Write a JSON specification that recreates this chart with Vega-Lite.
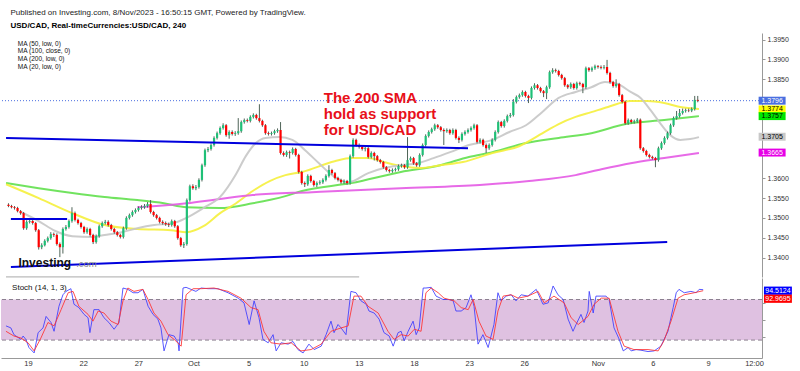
{
"$schema":"https://vega.github.io/schema/vega-lite/v6.json",
"padding":{"top":9,"left":0,"right":0,"bottom":0},
"background":"white",
"config":{"view":{"stroke":null},"font":"Liberation Sans","axis":{"labelOverlap":false}},
"title":{"text":"Published on Investing.com, 8/Nov/2023 - 16:50:15 GMT, Powered by TradingView.","subtitle":"USD/CAD, Real-timeCurrencies:USD/CAD, 240","anchor":"start","dx":10,"fontSize":8,"fontWeight":"normal","color":"#222","font":"Liberation Sans","subtitleFont":"Liberation Sans","subtitleFontSize":8,"subtitleFontWeight":"bold","subtitleColor":"#000","subtitlePadding":5,"offset":3},
"spacing":0,
"resolve":{"scale":{"x":"independent","y":"independent","color":"independent","fill":"independent"}},
"datasets":{
"candles":[
{"i":0,"o":1.3533,"h":1.3537,"l":1.3527,"c":1.3530},
{"i":1,"o":1.3530,"h":1.3533,"l":1.3524,"c":1.3527},
{"i":2,"o":1.3527,"h":1.3530,"l":1.3521,"c":1.3525},
{"i":3,"o":1.3525,"h":1.3528,"l":1.3514,"c":1.3517},
{"i":4,"o":1.3517,"h":1.3520,"l":1.3508,"c":1.3512},
{"i":5,"o":1.3512,"h":1.3515,"l":1.3470,"c":1.3474},
{"i":6,"o":1.3474,"h":1.3494,"l":1.3470,"c":1.3490},
{"i":7,"o":1.3490,"h":1.3497,"l":1.3486,"c":1.3492},
{"i":8,"o":1.3492,"h":1.3496,"l":1.3483,"c":1.3487},
{"i":9,"o":1.3487,"h":1.3490,"l":1.3465,"c":1.3469},
{"i":10,"o":1.3469,"h":1.3472,"l":1.3420,"c":1.3426},
{"i":11,"o":1.3426,"h":1.3436,"l":1.3421,"c":1.3431},
{"i":12,"o":1.3431,"h":1.3446,"l":1.3428,"c":1.3442},
{"i":13,"o":1.3442,"h":1.3453,"l":1.3438,"c":1.3449},
{"i":14,"o":1.3449,"h":1.3464,"l":1.3445,"c":1.3459},
{"i":15,"o":1.3459,"h":1.3463,"l":1.3452,"c":1.3457},
{"i":16,"o":1.3457,"h":1.3461,"l":1.3430,"c":1.3434},
{"i":17,"o":1.3434,"h":1.3438,"l":1.3401,"c":1.3426},
{"i":18,"o":1.3426,"h":1.3476,"l":1.3410,"c":1.3472},
{"i":19,"o":1.3472,"h":1.3482,"l":1.3468,"c":1.3477},
{"i":20,"o":1.3477,"h":1.3496,"l":1.3473,"c":1.3492},
{"i":21,"o":1.3492,"h":1.3527,"l":1.3488,"c":1.3512},
{"i":22,"o":1.3512,"h":1.3516,"l":1.3491,"c":1.3495},
{"i":23,"o":1.3495,"h":1.3498,"l":1.3483,"c":1.3487},
{"i":24,"o":1.3487,"h":1.3490,"l":1.3473,"c":1.3477},
{"i":25,"o":1.3477,"h":1.3480,"l":1.3460,"c":1.3464},
{"i":26,"o":1.3464,"h":1.3476,"l":1.3460,"c":1.3472},
{"i":27,"o":1.3472,"h":1.3475,"l":1.3453,"c":1.3457},
{"i":28,"o":1.3457,"h":1.3460,"l":1.3434,"c":1.3439},
{"i":29,"o":1.3439,"h":1.3458,"l":1.3435,"c":1.3454},
{"i":30,"o":1.3454,"h":1.3483,"l":1.3450,"c":1.3479},
{"i":31,"o":1.3479,"h":1.3491,"l":1.3475,"c":1.3487},
{"i":32,"o":1.3487,"h":1.3495,"l":1.3483,"c":1.3490},
{"i":33,"o":1.3490,"h":1.3494,"l":1.3478,"c":1.3482},
{"i":34,"o":1.3482,"h":1.3485,"l":1.3468,"c":1.3472},
{"i":35,"o":1.3472,"h":1.3475,"l":1.3460,"c":1.3464},
{"i":36,"o":1.3464,"h":1.3467,"l":1.3453,"c":1.3457},
{"i":37,"o":1.3457,"h":1.3460,"l":1.3448,"c":1.3452},
{"i":38,"o":1.3452,"h":1.3478,"l":1.3448,"c":1.3474},
{"i":39,"o":1.3474,"h":1.3504,"l":1.3470,"c":1.3500},
{"i":40,"o":1.3500,"h":1.3511,"l":1.3496,"c":1.3507},
{"i":41,"o":1.3507,"h":1.3519,"l":1.3503,"c":1.3515},
{"i":42,"o":1.3515,"h":1.3524,"l":1.3511,"c":1.3520},
{"i":43,"o":1.3520,"h":1.3529,"l":1.3516,"c":1.3525},
{"i":44,"o":1.3525,"h":1.3532,"l":1.3521,"c":1.3527},
{"i":45,"o":1.3527,"h":1.3535,"l":1.3523,"c":1.3530},
{"i":46,"o":1.3530,"h":1.3540,"l":1.3526,"c":1.3535},
{"i":47,"o":1.3535,"h":1.3545,"l":1.3511,"c":1.3515},
{"i":48,"o":1.3515,"h":1.3518,"l":1.3503,"c":1.3507},
{"i":49,"o":1.3507,"h":1.3510,"l":1.3496,"c":1.3500},
{"i":50,"o":1.3500,"h":1.3503,"l":1.3486,"c":1.3490},
{"i":51,"o":1.3490,"h":1.3494,"l":1.3483,"c":1.3487},
{"i":52,"o":1.3487,"h":1.3491,"l":1.3480,"c":1.3484},
{"i":53,"o":1.3484,"h":1.3488,"l":1.3477,"c":1.3482},
{"i":54,"o":1.3482,"h":1.3496,"l":1.3478,"c":1.3492},
{"i":55,"o":1.3492,"h":1.3495,"l":1.3475,"c":1.3479},
{"i":56,"o":1.3479,"h":1.3482,"l":1.3445,"c":1.3449},
{"i":57,"o":1.3449,"h":1.3452,"l":1.3427,"c":1.3431},
{"i":58,"o":1.3431,"h":1.3439,"l":1.3424,"c":1.3434},
{"i":59,"o":1.3434,"h":1.3549,"l":1.3430,"c":1.3545},
{"i":60,"o":1.3545,"h":1.3584,"l":1.3541,"c":1.3580},
{"i":61,"o":1.3580,"h":1.3585,"l":1.3571,"c":1.3575},
{"i":62,"o":1.3575,"h":1.3583,"l":1.3570,"c":1.3578},
{"i":63,"o":1.3578,"h":1.3600,"l":1.3574,"c":1.3596},
{"i":64,"o":1.3596,"h":1.3637,"l":1.3592,"c":1.3633},
{"i":65,"o":1.3633,"h":1.3675,"l":1.3629,"c":1.3671},
{"i":66,"o":1.3671,"h":1.3679,"l":1.3666,"c":1.3674},
{"i":67,"o":1.3674,"h":1.3688,"l":1.3670,"c":1.3684},
{"i":68,"o":1.3684,"h":1.3706,"l":1.3680,"c":1.3702},
{"i":69,"o":1.3702,"h":1.3718,"l":1.3698,"c":1.3714},
{"i":70,"o":1.3714,"h":1.3731,"l":1.3710,"c":1.3727},
{"i":71,"o":1.3727,"h":1.3739,"l":1.3723,"c":1.3734},
{"i":72,"o":1.3734,"h":1.3737,"l":1.3705,"c":1.3709},
{"i":73,"o":1.3709,"h":1.3721,"l":1.3700,"c":1.3717},
{"i":74,"o":1.3717,"h":1.3721,"l":1.3708,"c":1.3712},
{"i":75,"o":1.3712,"h":1.3719,"l":1.3707,"c":1.3714},
{"i":76,"o":1.3714,"h":1.3752,"l":1.3710,"c":1.3719},
{"i":77,"o":1.3719,"h":1.3746,"l":1.3715,"c":1.3742},
{"i":78,"o":1.3742,"h":1.3751,"l":1.3738,"c":1.3747},
{"i":79,"o":1.3747,"h":1.3751,"l":1.3741,"c":1.3745},
{"i":80,"o":1.3745,"h":1.3759,"l":1.3741,"c":1.3755},
{"i":81,"o":1.3755,"h":1.3764,"l":1.3751,"c":1.3760},
{"i":82,"o":1.3760,"h":1.3763,"l":1.3748,"c":1.3752},
{"i":83,"o":1.3752,"h":1.3787,"l":1.3741,"c":1.3745},
{"i":84,"o":1.3745,"h":1.3748,"l":1.3730,"c":1.3734},
{"i":85,"o":1.3734,"h":1.3737,"l":1.3710,"c":1.3714},
{"i":86,"o":1.3714,"h":1.3718,"l":1.3708,"c":1.3712},
{"i":87,"o":1.3712,"h":1.3718,"l":1.3708,"c":1.3714},
{"i":88,"o":1.3714,"h":1.3723,"l":1.3710,"c":1.3719},
{"i":89,"o":1.3719,"h":1.3726,"l":1.3715,"c":1.3722},
{"i":90,"o":1.3722,"h":1.3742,"l":1.3660,"c":1.3664},
{"i":91,"o":1.3664,"h":1.3668,"l":1.3655,"c":1.3659},
{"i":92,"o":1.3659,"h":1.3670,"l":1.3654,"c":1.3666},
{"i":93,"o":1.3666,"h":1.3670,"l":1.3650,"c":1.3664},
{"i":94,"o":1.3664,"h":1.3678,"l":1.3660,"c":1.3674},
{"i":95,"o":1.3674,"h":1.3677,"l":1.3655,"c":1.3659},
{"i":96,"o":1.3659,"h":1.3662,"l":1.3612,"c":1.3616},
{"i":97,"o":1.3616,"h":1.3619,"l":1.3584,"c":1.3588},
{"i":98,"o":1.3588,"h":1.3592,"l":1.3578,"c":1.3585},
{"i":99,"o":1.3585,"h":1.3610,"l":1.3581,"c":1.3606},
{"i":100,"o":1.3606,"h":1.3609,"l":1.3589,"c":1.3593},
{"i":101,"o":1.3593,"h":1.3596,"l":1.3579,"c":1.3583},
{"i":102,"o":1.3583,"h":1.3592,"l":1.3578,"c":1.3588},
{"i":103,"o":1.3588,"h":1.3595,"l":1.3584,"c":1.3590},
{"i":104,"o":1.3590,"h":1.3600,"l":1.3586,"c":1.3596},
{"i":105,"o":1.3596,"h":1.3610,"l":1.3592,"c":1.3606},
{"i":106,"o":1.3606,"h":1.3633,"l":1.3602,"c":1.3621},
{"i":107,"o":1.3621,"h":1.3624,"l":1.3609,"c":1.3613},
{"i":108,"o":1.3613,"h":1.3616,"l":1.3597,"c":1.3601},
{"i":109,"o":1.3601,"h":1.3604,"l":1.3592,"c":1.3596},
{"i":110,"o":1.3596,"h":1.3599,"l":1.3586,"c":1.3590},
{"i":111,"o":1.3590,"h":1.3597,"l":1.3586,"c":1.3593},
{"i":112,"o":1.3593,"h":1.3596,"l":1.3584,"c":1.3588},
{"i":113,"o":1.3588,"h":1.3660,"l":1.3584,"c":1.3656},
{"i":114,"o":1.3656,"h":1.3701,"l":1.3652,"c":1.3697},
{"i":115,"o":1.3697,"h":1.3700,"l":1.3680,"c":1.3684},
{"i":116,"o":1.3684,"h":1.3688,"l":1.3675,"c":1.3679},
{"i":117,"o":1.3679,"h":1.3683,"l":1.3670,"c":1.3674},
{"i":118,"o":1.3674,"h":1.3680,"l":1.3668,"c":1.3676},
{"i":119,"o":1.3676,"h":1.3679,"l":1.3650,"c":1.3654},
{"i":120,"o":1.3654,"h":1.3668,"l":1.3650,"c":1.3664},
{"i":121,"o":1.3664,"h":1.3667,"l":1.3645,"c":1.3656},
{"i":122,"o":1.3656,"h":1.3659,"l":1.3642,"c":1.3646},
{"i":123,"o":1.3646,"h":1.3649,"l":1.3637,"c":1.3641},
{"i":124,"o":1.3641,"h":1.3644,"l":1.3624,"c":1.3628},
{"i":125,"o":1.3628,"h":1.3631,"l":1.3617,"c":1.3621},
{"i":126,"o":1.3621,"h":1.3624,"l":1.3614,"c":1.3618},
{"i":127,"o":1.3618,"h":1.3625,"l":1.3614,"c":1.3621},
{"i":128,"o":1.3621,"h":1.3627,"l":1.3617,"c":1.3623},
{"i":129,"o":1.3623,"h":1.3635,"l":1.3619,"c":1.3631},
{"i":130,"o":1.3631,"h":1.3637,"l":1.3627,"c":1.3633},
{"i":131,"o":1.3633,"h":1.3636,"l":1.3624,"c":1.3628},
{"i":132,"o":1.3628,"h":1.3704,"l":1.3624,"c":1.3646},
{"i":133,"o":1.3646,"h":1.3655,"l":1.3642,"c":1.3651},
{"i":134,"o":1.3651,"h":1.3654,"l":1.3634,"c":1.3638},
{"i":135,"o":1.3638,"h":1.3641,"l":1.3629,"c":1.3633},
{"i":136,"o":1.3633,"h":1.3663,"l":1.3629,"c":1.3659},
{"i":137,"o":1.3659,"h":1.3688,"l":1.3655,"c":1.3684},
{"i":138,"o":1.3684,"h":1.3711,"l":1.3680,"c":1.3707},
{"i":139,"o":1.3707,"h":1.3721,"l":1.3703,"c":1.3717},
{"i":140,"o":1.3717,"h":1.3728,"l":1.3713,"c":1.3724},
{"i":141,"o":1.3724,"h":1.3738,"l":1.3720,"c":1.3734},
{"i":142,"o":1.3734,"h":1.3737,"l":1.3725,"c":1.3729},
{"i":143,"o":1.3729,"h":1.3732,"l":1.3718,"c":1.3722},
{"i":144,"o":1.3722,"h":1.3726,"l":1.3684,"c":1.3719},
{"i":145,"o":1.3719,"h":1.3726,"l":1.3715,"c":1.3722},
{"i":146,"o":1.3722,"h":1.3725,"l":1.3710,"c":1.3714},
{"i":147,"o":1.3714,"h":1.3726,"l":1.3710,"c":1.3722},
{"i":148,"o":1.3722,"h":1.3725,"l":1.3698,"c":1.3702},
{"i":149,"o":1.3702,"h":1.3706,"l":1.3689,"c":1.3697},
{"i":150,"o":1.3697,"h":1.3716,"l":1.3693,"c":1.3712},
{"i":151,"o":1.3712,"h":1.3721,"l":1.3708,"c":1.3717},
{"i":152,"o":1.3717,"h":1.3726,"l":1.3713,"c":1.3722},
{"i":153,"o":1.3722,"h":1.3731,"l":1.3718,"c":1.3727},
{"i":154,"o":1.3727,"h":1.3738,"l":1.3723,"c":1.3734},
{"i":155,"o":1.3734,"h":1.3737,"l":1.3688,"c":1.3692},
{"i":156,"o":1.3692,"h":1.3701,"l":1.3688,"c":1.3697},
{"i":157,"o":1.3697,"h":1.3700,"l":1.3680,"c":1.3684},
{"i":158,"o":1.3684,"h":1.3688,"l":1.3664,"c":1.3676},
{"i":159,"o":1.3676,"h":1.3688,"l":1.3672,"c":1.3684},
{"i":160,"o":1.3684,"h":1.3701,"l":1.3680,"c":1.3697},
{"i":161,"o":1.3697,"h":1.3721,"l":1.3693,"c":1.3717},
{"i":162,"o":1.3717,"h":1.3746,"l":1.3713,"c":1.3742},
{"i":163,"o":1.3742,"h":1.3745,"l":1.3728,"c":1.3732},
{"i":164,"o":1.3732,"h":1.3749,"l":1.3728,"c":1.3745},
{"i":165,"o":1.3745,"h":1.3761,"l":1.3741,"c":1.3757},
{"i":166,"o":1.3757,"h":1.3765,"l":1.3753,"c":1.3760},
{"i":167,"o":1.3760,"h":1.3800,"l":1.3756,"c":1.3793},
{"i":168,"o":1.3793,"h":1.3809,"l":1.3789,"c":1.3805},
{"i":169,"o":1.3805,"h":1.3814,"l":1.3801,"c":1.3810},
{"i":170,"o":1.3810,"h":1.3822,"l":1.3806,"c":1.3818},
{"i":171,"o":1.3818,"h":1.3821,"l":1.3804,"c":1.3808},
{"i":172,"o":1.3808,"h":1.3811,"l":1.3790,"c":1.3803},
{"i":173,"o":1.3803,"h":1.3832,"l":1.3799,"c":1.3828},
{"i":174,"o":1.3828,"h":1.3840,"l":1.3824,"c":1.3835},
{"i":175,"o":1.3835,"h":1.3838,"l":1.3824,"c":1.3828},
{"i":176,"o":1.3828,"h":1.3831,"l":1.3816,"c":1.3820},
{"i":177,"o":1.3820,"h":1.3823,"l":1.3805,"c":1.3815},
{"i":178,"o":1.3815,"h":1.3834,"l":1.3800,"c":1.3830},
{"i":179,"o":1.3830,"h":1.3872,"l":1.3826,"c":1.3868},
{"i":180,"o":1.3868,"h":1.3878,"l":1.3864,"c":1.3873},
{"i":181,"o":1.3873,"h":1.3877,"l":1.3867,"c":1.3871},
{"i":182,"o":1.3871,"h":1.3874,"l":1.3857,"c":1.3861},
{"i":183,"o":1.3861,"h":1.3864,"l":1.3849,"c":1.3853},
{"i":184,"o":1.3853,"h":1.3856,"l":1.3831,"c":1.3835},
{"i":185,"o":1.3835,"h":1.3838,"l":1.3826,"c":1.3830},
{"i":186,"o":1.3830,"h":1.3842,"l":1.3826,"c":1.3838},
{"i":187,"o":1.3838,"h":1.3841,"l":1.3824,"c":1.3828},
{"i":188,"o":1.3828,"h":1.3844,"l":1.3824,"c":1.3840},
{"i":189,"o":1.3840,"h":1.3844,"l":1.3834,"c":1.3838},
{"i":190,"o":1.3838,"h":1.3841,"l":1.3815,"c":1.3830},
{"i":191,"o":1.3830,"h":1.3882,"l":1.3826,"c":1.3878},
{"i":192,"o":1.3878,"h":1.3881,"l":1.3869,"c":1.3873},
{"i":193,"o":1.3873,"h":1.3882,"l":1.3869,"c":1.3878},
{"i":194,"o":1.3878,"h":1.3887,"l":1.3874,"c":1.3883},
{"i":195,"o":1.3883,"h":1.3886,"l":1.3877,"c":1.3881},
{"i":196,"o":1.3881,"h":1.3885,"l":1.3875,"c":1.3879},
{"i":197,"o":1.3879,"h":1.3886,"l":1.3875,"c":1.3881},
{"i":198,"o":1.3881,"h":1.3899,"l":1.3862,"c":1.3866},
{"i":199,"o":1.3866,"h":1.3869,"l":1.3839,"c":1.3843},
{"i":200,"o":1.3843,"h":1.3846,"l":1.3829,"c":1.3833},
{"i":201,"o":1.3833,"h":1.3850,"l":1.3829,"c":1.3838},
{"i":202,"o":1.3838,"h":1.3841,"l":1.3806,"c":1.3810},
{"i":203,"o":1.3810,"h":1.3813,"l":1.3789,"c":1.3793},
{"i":204,"o":1.3793,"h":1.3796,"l":1.3735,"c":1.3739},
{"i":205,"o":1.3739,"h":1.3751,"l":1.3735,"c":1.3747},
{"i":206,"o":1.3747,"h":1.3750,"l":1.3738,"c":1.3742},
{"i":207,"o":1.3742,"h":1.3748,"l":1.3738,"c":1.3744},
{"i":208,"o":1.3744,"h":1.3752,"l":1.3740,"c":1.3748},
{"i":209,"o":1.3748,"h":1.3751,"l":1.3672,"c":1.3676},
{"i":210,"o":1.3676,"h":1.3679,"l":1.3665,"c":1.3669},
{"i":211,"o":1.3669,"h":1.3672,"l":1.3655,"c":1.3659},
{"i":212,"o":1.3659,"h":1.3662,"l":1.3650,"c":1.3654},
{"i":213,"o":1.3654,"h":1.3657,"l":1.3647,"c":1.3651},
{"i":214,"o":1.3651,"h":1.3654,"l":1.3628,"c":1.3646},
{"i":215,"o":1.3646,"h":1.3680,"l":1.3642,"c":1.3676},
{"i":216,"o":1.3676,"h":1.3693,"l":1.3672,"c":1.3689},
{"i":217,"o":1.3689,"h":1.3706,"l":1.3685,"c":1.3702},
{"i":218,"o":1.3702,"h":1.3718,"l":1.3698,"c":1.3714},
{"i":219,"o":1.3714,"h":1.3738,"l":1.3710,"c":1.3734},
{"i":220,"o":1.3734,"h":1.3756,"l":1.3730,"c":1.3752},
{"i":221,"o":1.3752,"h":1.3770,"l":1.3748,"c":1.3757},
{"i":222,"o":1.3757,"h":1.3775,"l":1.3753,"c":1.3765},
{"i":223,"o":1.3765,"h":1.3776,"l":1.3761,"c":1.3770},
{"i":224,"o":1.3770,"h":1.3776,"l":1.3766,"c":1.3772},
{"i":225,"o":1.3772,"h":1.3776,"l":1.3767,"c":1.3771},
{"i":226,"o":1.3771,"h":1.3779,"l":1.3767,"c":1.3775},
{"i":227,"o":1.3775,"h":1.3808,"l":1.3771,"c":1.3798},
{"i":228,"o":1.3798,"h":1.3808,"l":1.3792,"c":1.3796}
],
"ma":[
{"s":"MA (100, close, 0)","i":-0.8,"v":1.3588},{"s":"MA (100, close, 0)","i":10,"v":1.3575},{"s":"MA (100, close, 0)","i":21.1,"v":1.3563},{"s":"MA (100, close, 0)","i":31.8,"v":1.3553},{"s":"MA (100, close, 0)","i":42.6,"v":1.3545},{"s":"MA (100, close, 0)","i":51.4,"v":1.3537},{"s":"MA (100, close, 0)","i":58.9,"v":1.3527},{"s":"MA (100, close, 0)","i":70,"v":1.3525},{"s":"MA (100, close, 0)","i":80.8,"v":1.3537},{"s":"MA (100, close, 0)","i":91.6,"v":1.3555},{"s":"MA (100, close, 0)","i":97.1,"v":1.3568},{"s":"MA (100, close, 0)","i":113.4,"v":1.3588},{"s":"MA (100, close, 0)","i":129.8,"v":1.3616},{"s":"MA (100, close, 0)","i":142.8,"v":1.3633},{"s":"MA (100, close, 0)","i":152.3,"v":1.3654},{"s":"MA (100, close, 0)","i":160.1,"v":1.3666},{"s":"MA (100, close, 0)","i":171.2,"v":1.3689},{"s":"MA (100, close, 0)","i":182,"v":1.3702},{"s":"MA (100, close, 0)","i":192.8,"v":1.3714},{"s":"MA (100, close, 0)","i":204.2,"v":1.3737},{"s":"MA (100, close, 0)","i":216.9,"v":1.3747},{"s":"MA (100, close, 0)","i":228.4,"v":1.3757},
{"s":"MA (50, low, 0)","i":-0.8,"v":1.3585},{"s":"MA (50, low, 0)","i":10,"v":1.3550},{"s":"MA (50, low, 0)","i":21.1,"v":1.3512},{"s":"MA (50, low, 0)","i":31.8,"v":1.3482},{"s":"MA (50, low, 0)","i":42.6,"v":1.3472},{"s":"MA (50, low, 0)","i":53.7,"v":1.3469},{"s":"MA (50, low, 0)","i":58.9,"v":1.3464},{"s":"MA (50, low, 0)","i":64.5,"v":1.3479},{"s":"MA (50, low, 0)","i":70,"v":1.3512},{"s":"MA (50, low, 0)","i":75.3,"v":1.3537},{"s":"MA (50, low, 0)","i":80.8,"v":1.3568},{"s":"MA (50, low, 0)","i":86.4,"v":1.3593},{"s":"MA (50, low, 0)","i":91.6,"v":1.3608},{"s":"MA (50, low, 0)","i":97.1,"v":1.3616},{"s":"MA (50, low, 0)","i":107.9,"v":1.3643},{"s":"MA (50, low, 0)","i":113.4,"v":1.3651},{"s":"MA (50, low, 0)","i":119,"v":1.3651},{"s":"MA (50, low, 0)","i":124.2,"v":1.3641},{"s":"MA (50, low, 0)","i":129.8,"v":1.3631},{"s":"MA (50, low, 0)","i":136.3,"v":1.3626},{"s":"MA (50, low, 0)","i":142.8,"v":1.3633},{"s":"MA (50, low, 0)","i":150.3,"v":1.3641},{"s":"MA (50, low, 0)","i":160.1,"v":1.3664},{"s":"MA (50, low, 0)","i":168.9,"v":1.3681},{"s":"MA (50, low, 0)","i":177.8,"v":1.3719},{"s":"MA (50, low, 0)","i":182,"v":1.3737},{"s":"MA (50, low, 0)","i":187.6,"v":1.3755},{"s":"MA (50, low, 0)","i":192.8,"v":1.3767},{"s":"MA (50, low, 0)","i":198.3,"v":1.3780},{"s":"MA (50, low, 0)","i":205.8,"v":1.3795},{"s":"MA (50, low, 0)","i":211.4,"v":1.3795},{"s":"MA (50, low, 0)","i":216.9,"v":1.3790},{"s":"MA (50, low, 0)","i":222.2,"v":1.3780},{"s":"MA (50, low, 0)","i":228.4,"v":1.3775},
{"s":"MA (200, low, 0)","i":42.6,"v":1.3527},{"s":"MA (200, low, 0)","i":58.9,"v":1.3537},{"s":"MA (200, low, 0)","i":70,"v":1.3548},{"s":"MA (200, low, 0)","i":80.8,"v":1.3558},{"s":"MA (200, low, 0)","i":100.4,"v":1.3565},{"s":"MA (200, low, 0)","i":129.8,"v":1.3575},{"s":"MA (200, low, 0)","i":155.9,"v":1.3583},{"s":"MA (200, low, 0)","i":172.2,"v":1.3593},{"s":"MA (200, low, 0)","i":187.6,"v":1.3608},{"s":"MA (200, low, 0)","i":195.1,"v":1.3621},{"s":"MA (200, low, 0)","i":205.8,"v":1.3638},{"s":"MA (200, low, 0)","i":216.9,"v":1.3651},{"s":"MA (200, low, 0)","i":228.4,"v":1.3664},
{"s":"MA (20, low, 0)","i":4.1,"v":1.3515},{"s":"MA (20, low, 0)","i":10,"v":1.3492},{"s":"MA (20, low, 0)","i":15.5,"v":1.3467},{"s":"MA (20, low, 0)","i":21.1,"v":1.3454},{"s":"MA (20, low, 0)","i":27.6,"v":1.3452},{"s":"MA (20, low, 0)","i":31.8,"v":1.3457},{"s":"MA (20, low, 0)","i":37.4,"v":1.3464},{"s":"MA (20, low, 0)","i":42.6,"v":1.3474},{"s":"MA (20, low, 0)","i":48.2,"v":1.3482},{"s":"MA (20, low, 0)","i":54.7,"v":1.3487},{"s":"MA (20, low, 0)","i":58.9,"v":1.3500},{"s":"MA (20, low, 0)","i":64.5,"v":1.3525},{"s":"MA (20, low, 0)","i":70,"v":1.3553},{"s":"MA (20, low, 0)","i":75.3,"v":1.3611},{"s":"MA (20, low, 0)","i":78.5,"v":1.3656},{"s":"MA (20, low, 0)","i":81.8,"v":1.3689},{"s":"MA (20, low, 0)","i":85,"v":1.3702},{"s":"MA (20, low, 0)","i":89.6,"v":1.3704},{"s":"MA (20, low, 0)","i":93.9,"v":1.3697},{"s":"MA (20, low, 0)","i":98.1,"v":1.3671},{"s":"MA (20, low, 0)","i":102.7,"v":1.3638},{"s":"MA (20, low, 0)","i":107.9,"v":1.3603},{"s":"MA (20, low, 0)","i":112.5,"v":1.3590},{"s":"MA (20, low, 0)","i":119,"v":1.3613},{"s":"MA (20, low, 0)","i":124.2,"v":1.3626},{"s":"MA (20, low, 0)","i":129.8,"v":1.3633},{"s":"MA (20, low, 0)","i":135.3,"v":1.3638},{"s":"MA (20, low, 0)","i":140.6,"v":1.3651},{"s":"MA (20, low, 0)","i":146.1,"v":1.3666},{"s":"MA (20, low, 0)","i":152.3,"v":1.3684},{"s":"MA (20, low, 0)","i":160.1,"v":1.3697},{"s":"MA (20, low, 0)","i":165.7,"v":1.3717},{"s":"MA (20, low, 0)","i":171.2,"v":1.3734},{"s":"MA (20, low, 0)","i":176.5,"v":1.3767},{"s":"MA (20, low, 0)","i":182,"v":1.3803},{"s":"MA (20, low, 0)","i":187.6,"v":1.3818},{"s":"MA (20, low, 0)","i":192.8,"v":1.3830},{"s":"MA (20, low, 0)","i":197.3,"v":1.3843},{"s":"MA (20, low, 0)","i":201.5,"v":1.3838},{"s":"MA (20, low, 0)","i":205.8,"v":1.3818},{"s":"MA (20, low, 0)","i":209.1,"v":1.3803},{"s":"MA (20, low, 0)","i":212.4,"v":1.3772},{"s":"MA (20, low, 0)","i":215.6,"v":1.3739},{"s":"MA (20, low, 0)","i":218.9,"v":1.3709},{"s":"MA (20, low, 0)","i":222.2,"v":1.3697},{"s":"MA (20, low, 0)","i":225.5,"v":1.3699},{"s":"MA (20, low, 0)","i":228.4,"v":1.3704}
],
"trend":[
{"i":-0.8,"p":1.3702,"i2":152.0,"p2":1.3676},
{"i":0.8,"p":1.3497,"i2":19.4,"p2":1.3497},
{"i":0.8,"p":1.3376,"i2":217.9,"p2":1.3439}
],
"stoch":[
{"s":"K","i":0.8,"v":41},{"s":"K","i":2.4,"v":38},{"s":"K","i":3.4,"v":28},{"s":"K","i":4.7,"v":24},{"s":"K","i":5.7,"v":21},{"s":"K","i":6.4,"v":26},{"s":"K","i":7.3,"v":21},{"s":"K","i":8.3,"v":9},{"s":"K","i":10,"v":1},{"s":"K","i":11.3,"v":31},{"s":"K","i":12.9,"v":38},{"s":"K","i":13.9,"v":55},{"s":"K","i":15.5,"v":46},{"s":"K","i":16.5,"v":33},{"s":"K","i":18.1,"v":70},{"s":"K","i":19.4,"v":87},{"s":"K","i":20.4,"v":92},{"s":"K","i":22,"v":96},{"s":"K","i":23,"v":73},{"s":"K","i":24.6,"v":68},{"s":"K","i":26.3,"v":58},{"s":"K","i":27.6,"v":53},{"s":"K","i":28.2,"v":31},{"s":"K","i":29.5,"v":65},{"s":"K","i":31.2,"v":65},{"s":"K","i":32.8,"v":53},{"s":"K","i":34.4,"v":46},{"s":"K","i":36.1,"v":36},{"s":"K","i":37.7,"v":46},{"s":"K","i":39,"v":97},{"s":"K","i":40.6,"v":95},{"s":"K","i":42.3,"v":90},{"s":"K","i":43.9,"v":90},{"s":"K","i":45.5,"v":95},{"s":"K","i":47.2,"v":70},{"s":"K","i":48.8,"v":58},{"s":"K","i":50.4,"v":51},{"s":"K","i":51.4,"v":38},{"s":"K","i":52.4,"v":4},{"s":"K","i":54,"v":28},{"s":"K","i":55.7,"v":26},{"s":"K","i":57,"v":16},{"s":"K","i":57.3,"v":4},{"s":"K","i":58.6,"v":97},{"s":"K","i":59.6,"v":98},{"s":"K","i":61.2,"v":95},{"s":"K","i":62.8,"v":92},{"s":"K","i":64.5,"v":97},{"s":"K","i":66.8,"v":96},{"s":"K","i":70,"v":96},{"s":"K","i":73.3,"v":90},{"s":"K","i":76.6,"v":82},{"s":"K","i":78.5,"v":75},{"s":"K","i":80.2,"v":43},{"s":"K","i":81.8,"v":78},{"s":"K","i":83.4,"v":53},{"s":"K","i":84.7,"v":21},{"s":"K","i":86.4,"v":16},{"s":"K","i":88,"v":28},{"s":"K","i":89,"v":4},{"s":"K","i":90.6,"v":16},{"s":"K","i":92.9,"v":14},{"s":"K","i":94.5,"v":18},{"s":"K","i":96.1,"v":6},{"s":"K","i":97.8,"v":1},{"s":"K","i":99.7,"v":14},{"s":"K","i":101.4,"v":6},{"s":"K","i":103.7,"v":11},{"s":"K","i":105.3,"v":28},{"s":"K","i":106.9,"v":48},{"s":"K","i":107.9,"v":31},{"s":"K","i":109.2,"v":43},{"s":"K","i":110.2,"v":38},{"s":"K","i":111.8,"v":28},{"s":"K","i":113.4,"v":92},{"s":"K","i":115.1,"v":90},{"s":"K","i":116.7,"v":78},{"s":"K","i":118.4,"v":73},{"s":"K","i":119.3,"v":63},{"s":"K","i":121,"v":60},{"s":"K","i":122.6,"v":51},{"s":"K","i":124.2,"v":31},{"s":"K","i":125.9,"v":26},{"s":"K","i":127.2,"v":11},{"s":"K","i":128.8,"v":31},{"s":"K","i":129.8,"v":33},{"s":"K","i":130.8,"v":19},{"s":"K","i":132.1,"v":33},{"s":"K","i":133.7,"v":48},{"s":"K","i":134.7,"v":28},{"s":"K","i":135.7,"v":38},{"s":"K","i":137,"v":97},{"s":"K","i":137.9,"v":97},{"s":"K","i":139.6,"v":98},{"s":"K","i":141.2,"v":85},{"s":"K","i":143.5,"v":80},{"s":"K","i":145.4,"v":80},{"s":"K","i":146.8,"v":78},{"s":"K","i":147.7,"v":63},{"s":"K","i":149.4,"v":63},{"s":"K","i":151,"v":68},{"s":"K","i":152.6,"v":87},{"s":"K","i":153.6,"v":70},{"s":"K","i":154.9,"v":14},{"s":"K","i":156.5,"v":28},{"s":"K","i":158.2,"v":9},{"s":"K","i":160.1,"v":43},{"s":"K","i":161.4,"v":90},{"s":"K","i":162.4,"v":78},{"s":"K","i":164.1,"v":85},{"s":"K","i":165.7,"v":87},{"s":"K","i":167.3,"v":78},{"s":"K","i":169,"v":87},{"s":"K","i":171.2,"v":85},{"s":"K","i":173.9,"v":95},{"s":"K","i":176.1,"v":73},{"s":"K","i":177.8,"v":75},{"s":"K","i":179.4,"v":100},{"s":"K","i":181,"v":87},{"s":"K","i":182.7,"v":80},{"s":"K","i":184.3,"v":51},{"s":"K","i":185.9,"v":33},{"s":"K","i":186.9,"v":43},{"s":"K","i":188.5,"v":58},{"s":"K","i":189.5,"v":46},{"s":"K","i":190.8,"v":63},{"s":"K","i":191.2,"v":92},{"s":"K","i":192.5,"v":60},{"s":"K","i":193.4,"v":85},{"s":"K","i":195.1,"v":85},{"s":"K","i":196.7,"v":85},{"s":"K","i":197.7,"v":80},{"s":"K","i":199.3,"v":38},{"s":"K","i":201,"v":21},{"s":"K","i":202.3,"v":4},{"s":"K","i":203.9,"v":9},{"s":"K","i":204.9,"v":4},{"s":"K","i":206.5,"v":6},{"s":"K","i":208.1,"v":5},{"s":"K","i":210.4,"v":3},{"s":"K","i":212.4,"v":4},{"s":"K","i":214.6,"v":11},{"s":"K","i":216.9,"v":33},{"s":"K","i":218.6,"v":68},{"s":"K","i":219.6,"v":90},{"s":"K","i":220.5,"v":95},{"s":"K","i":222.2,"v":90},{"s":"K","i":224.4,"v":92},{"s":"K","i":226.1,"v":90},{"s":"K","i":227.1,"v":95},{"s":"K","i":228.4,"v":94.5},
{"s":"D","i":0.8,"v":33},{"s":"D","i":3.4,"v":26},{"s":"D","i":5.7,"v":23},{"s":"D","i":8,"v":16},{"s":"D","i":10,"v":4},{"s":"D","i":12.2,"v":23},{"s":"D","i":14.5,"v":46},{"s":"D","i":16.5,"v":41},{"s":"D","i":18.8,"v":65},{"s":"D","i":21.1,"v":90},{"s":"D","i":22.7,"v":92},{"s":"D","i":24.6,"v":70},{"s":"D","i":27.6,"v":58},{"s":"D","i":29.2,"v":48},{"s":"D","i":30.9,"v":63},{"s":"D","i":32.8,"v":60},{"s":"D","i":35.1,"v":48},{"s":"D","i":37.4,"v":43},{"s":"D","i":39,"v":78},{"s":"D","i":40.6,"v":97},{"s":"D","i":42.6,"v":92},{"s":"D","i":45.5,"v":95},{"s":"D","i":47.2,"v":80},{"s":"D","i":49.1,"v":60},{"s":"D","i":51.4,"v":48},{"s":"D","i":53.7,"v":28},{"s":"D","i":55.7,"v":21},{"s":"D","i":58,"v":11},{"s":"D","i":59.6,"v":87},{"s":"D","i":61.9,"v":96},{"s":"D","i":64.5,"v":96},{"s":"D","i":68.7,"v":97},{"s":"D","i":73.3,"v":92},{"s":"D","i":77.5,"v":82},{"s":"D","i":80.8,"v":68},{"s":"D","i":83.1,"v":65},{"s":"D","i":85,"v":33},{"s":"D","i":87.3,"v":16},{"s":"D","i":90.6,"v":14},{"s":"D","i":93.9,"v":16},{"s":"D","i":97.1,"v":4},{"s":"D","i":100.4,"v":6},{"s":"D","i":103.7,"v":14},{"s":"D","i":106.9,"v":33},{"s":"D","i":110.2,"v":38},{"s":"D","i":112.5,"v":41},{"s":"D","i":114.4,"v":85},{"s":"D","i":116.7,"v":85},{"s":"D","i":119,"v":70},{"s":"D","i":122.3,"v":60},{"s":"D","i":125.5,"v":33},{"s":"D","i":127.5,"v":21},{"s":"D","i":129.8,"v":28},{"s":"D","i":132.1,"v":26},{"s":"D","i":134.1,"v":36},{"s":"D","i":136.3,"v":33},{"s":"D","i":137.9,"v":90},{"s":"D","i":139.6,"v":97},{"s":"D","i":141.9,"v":90},{"s":"D","i":143.8,"v":82},{"s":"D","i":147.1,"v":78},{"s":"D","i":149.4,"v":68},{"s":"D","i":151.7,"v":65},{"s":"D","i":153.3,"v":80},{"s":"D","i":155.2,"v":48},{"s":"D","i":157.5,"v":26},{"s":"D","i":159.8,"v":21},{"s":"D","i":161.4,"v":63},{"s":"D","i":163.1,"v":85},{"s":"D","i":165.7,"v":87},{"s":"D","i":168,"v":82},{"s":"D","i":171.2,"v":85},{"s":"D","i":174.5,"v":92},{"s":"D","i":176.5,"v":75},{"s":"D","i":179.7,"v":85},{"s":"D","i":183,"v":75},{"s":"D","i":185.3,"v":53},{"s":"D","i":187.6,"v":43},{"s":"D","i":190.8,"v":55},{"s":"D","i":192.8,"v":73},{"s":"D","i":195.1,"v":82},{"s":"D","i":197.7,"v":82},{"s":"D","i":200.6,"v":33},{"s":"D","i":202.6,"v":11},{"s":"D","i":205.8,"v":6},{"s":"D","i":210.4,"v":6},{"s":"D","i":213.7,"v":4},{"s":"D","i":215.6,"v":19},{"s":"D","i":217.9,"v":48},{"s":"D","i":220.2,"v":82},{"s":"D","i":222.2,"v":87},{"s":"D","i":225.5,"v":90},{"s":"D","i":228.4,"v":93}
]
},
"vconcat":[
{
"width":761,"height":244,
"layer":[
{"data":{"values":[{"v":1.3796}]},"mark":{"type":"rule","color":"#4a6fe0","strokeDash":[1,2],"strokeWidth":1},
 "encoding":{"y":{"field":"v","type":"quantitative","scale":{"domain":[1.33508,1.39669],"nice":false,"zero":false},
  "axis":{"orient":"right","title":null,"values":[1.34,1.345,1.35,1.355,1.36,1.385,1.39,1.395],"format":".4f","labelFontSize":7,"labelColor":"#333","tickSize":3,"tickColor":"#999","domainColor":"#999","labelPadding":2,"grid":false,"labelOverlap":false}}}},
{"data":{"name":"ma"},"mark":{"type":"line","strokeWidth":2,"opacity":0.9,"interpolate":"monotone"},
 "encoding":{"x":{"field":"i","type":"quantitative","scale":{"domain":[-0.82,247.6],"nice":false,"zero":false},"axis":null},
  "y":{"field":"v","type":"quantitative","axis":{"orient":"right","title":null,"values":[1.34,1.345,1.35,1.355,1.36,1.385,1.39,1.395],"format":".4f","labelFontSize":7,"labelColor":"#333","tickSize":3,"tickColor":"#999","domainColor":"#999","labelPadding":2,"grid":false,"labelOverlap":false}},
  "color":{"field":"s","type":"nominal","legend":null,"scale":{"domain":["MA (50, low, 0)","MA (100, close, 0)","MA (200, low, 0)","MA (20, low, 0)"],"range":["#f5f03c","#62e04e","#e45ae4","#c6c6c6"]}},
  "detail":{"field":"s"}}},
{"data":{"name":"candles"},"mark":{"type":"rule","color":"#4f6458","strokeWidth":1},
 "encoding":{"x":{"field":"i","type":"quantitative","axis":null},"y":{"field":"l","type":"quantitative","axis":{"orient":"right","title":null,"values":[1.34,1.345,1.35,1.355,1.36,1.385,1.39,1.395],"format":".4f","labelFontSize":7,"labelColor":"#333","tickSize":3,"tickColor":"#999","domainColor":"#999","labelPadding":2,"grid":false,"labelOverlap":false}},"y2":{"field":"h"}}},
{"data":{"name":"candles"},"mark":{"type":"bar","size":2.2,"orient":"vertical"},
 "encoding":{"x":{"field":"i","type":"quantitative","axis":null},"y":{"field":"o","type":"quantitative","axis":{"orient":"right","title":null,"values":[1.34,1.345,1.35,1.355,1.36,1.385,1.39,1.395],"format":".4f","labelFontSize":7,"labelColor":"#333","tickSize":3,"tickColor":"#999","domainColor":"#999","labelPadding":2,"grid":false,"labelOverlap":false}},"y2":{"field":"c"},
  "color":{"condition":{"test":"datum.c >= datum.o","value":"#1fc077"},"value":"#ff0000"}}},
{"data":{"name":"trend"},"mark":{"type":"rule","color":"#0000dd","strokeWidth":2},
 "encoding":{"x":{"field":"i","type":"quantitative","axis":null},"x2":{"field":"i2"},"y":{"field":"p","type":"quantitative","axis":{"orient":"right","title":null,"values":[1.34,1.345,1.35,1.355,1.36,1.385,1.39,1.395],"format":".4f","labelFontSize":7,"labelColor":"#333","tickSize":3,"tickColor":"#999","domainColor":"#999","labelPadding":2,"grid":false,"labelOverlap":false}},"y2":{"field":"p2"}}},
{"data":{"values":[{"i":104.3,"p":1.3789,"t":"The 200 SMA\nhold as support\nfor USD/CAD"}]},"mark":{"type":"text","align":"left","baseline":"alphabetic","fontSize":15,"fontWeight":"bold","color":"#e8101a","lineBreak":"\n","lineHeight":16},
 "encoding":{"x":{"field":"i","type":"quantitative","axis":null},"y":{"field":"p","type":"quantitative","axis":{"orient":"right","title":null,"values":[1.34,1.345,1.35,1.355,1.36,1.385,1.39,1.395],"format":".4f","labelFontSize":7,"labelColor":"#333","tickSize":3,"tickColor":"#999","domainColor":"#999","labelPadding":2,"grid":false,"labelOverlap":false}},"text":{"field":"t"}}},
{"data":{"values":[{"i":3.1,"p":1.3935,"t":"MA (50, low, 0)\nMA (100, close, 0)\nMA (200, low, 0)\nMA (20, low, 0)"}]},"mark":{"type":"text","align":"left","baseline":"alphabetic","fontSize":6.5,"color":"#111","lineBreak":"\n","lineHeight":7.7},
 "encoding":{"x":{"field":"i","type":"quantitative","axis":null},"y":{"field":"p","type":"quantitative","axis":{"orient":"right","title":null,"values":[1.34,1.345,1.35,1.355,1.36,1.385,1.39,1.395],"format":".4f","labelFontSize":7,"labelColor":"#333","tickSize":3,"tickColor":"#999","domainColor":"#999","labelPadding":2,"grid":false,"labelOverlap":false}},"text":{"field":"t"}}},
{"data":{"values":[{"i":3.3,"p":1.3377,"t":"Investing"}]},"mark":{"type":"text","align":"left","baseline":"alphabetic","fontSize":12,"fontWeight":"bold","color":"#111"},
 "encoding":{"x":{"field":"i","type":"quantitative","axis":null},"y":{"field":"p","type":"quantitative","axis":{"orient":"right","title":null,"values":[1.34,1.345,1.35,1.355,1.36,1.385,1.39,1.395],"format":".4f","labelFontSize":7,"labelColor":"#333","tickSize":3,"tickColor":"#999","domainColor":"#999","labelPadding":2,"grid":false,"labelOverlap":false}},"text":{"field":"t"}}},
{"data":{"values":[{"i":22.4,"p":1.3377,"t":".com"}]},"mark":{"type":"text","align":"left","baseline":"alphabetic","fontSize":9.5,"color":"#888"},
 "encoding":{"x":{"field":"i","type":"quantitative","axis":null},"y":{"field":"p","type":"quantitative","axis":{"orient":"right","title":null,"values":[1.34,1.345,1.35,1.355,1.36,1.385,1.39,1.395],"format":".4f","labelFontSize":7,"labelColor":"#333","tickSize":3,"tickColor":"#999","domainColor":"#999","labelPadding":2,"grid":false,"labelOverlap":false}},"text":{"field":"t"}}},
{"data":{"values":[{"i":-0.82,"i2":116,"p":1.3351}]},"mark":{"type":"rule","color":"#aaaaaa","strokeWidth":1},
 "encoding":{"x":{"field":"i","type":"quantitative","axis":null},"x2":{"field":"i2"},"y":{"field":"p","type":"quantitative","axis":{"orient":"right","title":null,"values":[1.34,1.345,1.35,1.355,1.36,1.385,1.39,1.395],"format":".4f","labelFontSize":7,"labelColor":"#333","tickSize":3,"tickColor":"#999","domainColor":"#999","labelPadding":2,"grid":false,"labelOverlap":false}}}},
{"data":{"values":[{"s":"USD/CAD","v":1.3796},{"s":"MA (50, low, 0)","v":1.3774},{"s":"MA (100, close, 0)","v":1.3757},{"s":"MA (20, low, 0)","v":1.3705},{"s":"MA (200, low, 0)","v":1.3665}]},
 "mark":{"type":"point","shape":"M-1.7,-0.5H1.7V0.5H-1.7Z","size":252,"filled":true,"opacity":1,"strokeWidth":0},
 "encoding":{"x":{"datum":252.6,"type":"quantitative","axis":null},"y":{"field":"v","type":"quantitative","axis":{"orient":"right","title":null,"values":[1.34,1.345,1.35,1.355,1.36,1.385,1.39,1.395],"format":".4f","labelFontSize":7,"labelColor":"#333","tickSize":3,"tickColor":"#999","domainColor":"#999","labelPadding":2,"grid":false,"labelOverlap":false}},
  "fill":{"field":"s","type":"nominal","legend":null,"scale":{"domain":["USD/CAD","MA (50, low, 0)","MA (100, close, 0)","MA (20, low, 0)","MA (200, low, 0)"],"range":["#4a6fe0","#ffff00","#00e600","#c8c8c8","#e600e6"]}}}},
{"data":{"values":[{"s":"USD/CAD","v":1.3796},{"s":"MA (50, low, 0)","v":1.3774},{"s":"MA (100, close, 0)","v":1.3757},{"s":"MA (20, low, 0)","v":1.3705},{"s":"MA (200, low, 0)","v":1.3665}]},
 "mark":{"type":"text","align":"center","baseline":"middle","fontSize":7},
 "encoding":{"x":{"datum":252.6,"type":"quantitative","axis":null},"y":{"field":"v","type":"quantitative","axis":{"orient":"right","title":null,"values":[1.34,1.345,1.35,1.355,1.36,1.385,1.39,1.395],"format":".4f","labelFontSize":7,"labelColor":"#333","tickSize":3,"tickColor":"#999","domainColor":"#999","labelPadding":2,"grid":false,"labelOverlap":false}},"text":{"field":"v","type":"quantitative","format":".4f"},
  "color":{"condition":{"test":"datum.s === 'USD/CAD' || datum.s === 'MA (200, low, 0)'","value":"#ffffff"},"value":"#000000"}}}
]
},
{
"width":761,"height":80,
"layer":[
{"data":{"values":[{"lo":20,"hi":80}]},"mark":{"type":"rect","color":"#dfc1e1"},
 "encoding":{"x":{"datum":-0.82,"type":"quantitative","scale":{"domain":[-0.82,247.6],"nice":false,"zero":false},
   "axis":{"values":[8,26,44,62,80,98,116,134,152,170,194,212,230,245],"labelExpr":"['19','22','27','Oct','5','10','13','18','23','26','Nov','6','9','12:00'][indexof([8,26,44,62,80,98,116,134,152,170,194,212,230,245], datum.value)]","title":null,"grid":false,"ticks":false,"labelFontSize":7.5,"labelColor":"#333","labelPadding":1,"domainColor":"#999","labelFlush":false,"labelOverlap":false}},
  "x2":{"datum":247.6},
  "y":{"field":"lo","type":"quantitative","scale":{"domain":[-6.5,111.8],"nice":false,"zero":false},
   "axis":{"orient":"right","title":null,"values":[25,50,75],"labels":false,"tickSize":3,"tickColor":"#999","domainColor":"#999","grid":false}},
  "y2":{"field":"hi"}}},
{"data":{"values":[{"v":20},{"v":80}]},"mark":{"type":"rule","color":"#8c8090","strokeDash":[4,3],"strokeWidth":1},
 "encoding":{"y":{"field":"v","type":"quantitative","axis":{"orient":"right","title":null,"values":[25,50,75],"labels":false,"tickSize":3,"tickColor":"#999","domainColor":"#999","grid":false}}}},
{"data":{"name":"stoch"},"mark":{"type":"line","strokeWidth":1,"opacity":0.85},
 "encoding":{"x":{"field":"i","type":"quantitative","axis":{"values":[8,26,44,62,80,98,116,134,152,170,194,212,230,245],"labelExpr":"['19','22','27','Oct','5','10','13','18','23','26','Nov','6','9','12:00'][indexof([8,26,44,62,80,98,116,134,152,170,194,212,230,245], datum.value)]","title":null,"grid":false,"ticks":false,"labelFontSize":7.5,"labelColor":"#333","labelPadding":1,"domainColor":"#999","labelFlush":false,"labelOverlap":false}},
  "y":{"field":"v","type":"quantitative","axis":{"orient":"right","title":null,"values":[25,50,75],"labels":false,"tickSize":3,"tickColor":"#999","domainColor":"#999","grid":false}},
  "color":{"field":"s","type":"nominal","legend":null,"scale":{"domain":["K","D"],"range":["#3c3cff","#ff3030"]}}}},
{"data":{"values":[{"i":2.8,"v":93.8,"t":"Stoch (14, 1, 3)"}]},"mark":{"type":"text","align":"left","baseline":"alphabetic","fontSize":8,"color":"#111"},
 "encoding":{"x":{"field":"i","type":"quantitative","axis":{"values":[8,26,44,62,80,98,116,134,152,170,194,212,230,245],"labelExpr":"['19','22','27','Oct','5','10','13','18','23','26','Nov','6','9','12:00'][indexof([8,26,44,62,80,98,116,134,152,170,194,212,230,245], datum.value)]","title":null,"grid":false,"ticks":false,"labelFontSize":7.5,"labelColor":"#333","labelPadding":1,"domainColor":"#999","labelFlush":false,"labelOverlap":false}},"y":{"field":"v","type":"quantitative","axis":{"orient":"right","title":null,"values":[25,50,75],"labels":false,"tickSize":3,"tickColor":"#999","domainColor":"#999","grid":false}},"text":{"field":"t"}}},
{"data":{"values":[{"s":"K","v":94.5124}]},"mark":{"type":"point","shape":"M-1.7,-0.5H1.7V0.5H-1.7Z","size":270,"filled":true,"opacity":1,"color":"#0000ff","strokeWidth":0,"yOffset":1},
 "encoding":{"x":{"datum":252.8,"type":"quantitative","axis":{"values":[8,26,44,62,80,98,116,134,152,170,194,212,230,245],"labelExpr":"['19','22','27','Oct','5','10','13','18','23','26','Nov','6','9','12:00'][indexof([8,26,44,62,80,98,116,134,152,170,194,212,230,245], datum.value)]","title":null,"grid":false,"ticks":false,"labelFontSize":7.5,"labelColor":"#333","labelPadding":1,"domainColor":"#999","labelFlush":false,"labelOverlap":false}},"y":{"field":"v","type":"quantitative","axis":{"orient":"right","title":null,"values":[25,50,75],"labels":false,"tickSize":3,"tickColor":"#999","domainColor":"#999","grid":false}}}},
{"data":{"values":[{"s":"D","v":92.9695}]},"mark":{"type":"point","shape":"M-1.7,-0.5H1.7V0.5H-1.7Z","size":270,"filled":true,"opacity":1,"color":"#ff0000","strokeWidth":0,"yOffset":8},
 "encoding":{"x":{"datum":252.8,"type":"quantitative","axis":{"values":[8,26,44,62,80,98,116,134,152,170,194,212,230,245],"labelExpr":"['19','22','27','Oct','5','10','13','18','23','26','Nov','6','9','12:00'][indexof([8,26,44,62,80,98,116,134,152,170,194,212,230,245], datum.value)]","title":null,"grid":false,"ticks":false,"labelFontSize":7.5,"labelColor":"#333","labelPadding":1,"domainColor":"#999","labelFlush":false,"labelOverlap":false}},"y":{"field":"v","type":"quantitative","axis":{"orient":"right","title":null,"values":[25,50,75],"labels":false,"tickSize":3,"tickColor":"#999","domainColor":"#999","grid":false}}}},
{"data":{"values":[{"s":"K","v":94.5124}]},"mark":{"type":"text","align":"center","baseline":"middle","fontSize":7,"color":"#ffffff","yOffset":1},
 "encoding":{"x":{"datum":252.8,"type":"quantitative","axis":{"values":[8,26,44,62,80,98,116,134,152,170,194,212,230,245],"labelExpr":"['19','22','27','Oct','5','10','13','18','23','26','Nov','6','9','12:00'][indexof([8,26,44,62,80,98,116,134,152,170,194,212,230,245], datum.value)]","title":null,"grid":false,"ticks":false,"labelFontSize":7.5,"labelColor":"#333","labelPadding":1,"domainColor":"#999","labelFlush":false,"labelOverlap":false}},"y":{"field":"v","type":"quantitative","axis":{"orient":"right","title":null,"values":[25,50,75],"labels":false,"tickSize":3,"tickColor":"#999","domainColor":"#999","grid":false}},"text":{"field":"v","type":"quantitative","format":".4f"}}},
{"data":{"values":[{"s":"D","v":92.9695}]},"mark":{"type":"text","align":"center","baseline":"middle","fontSize":7,"color":"#ffffff","yOffset":8},
 "encoding":{"x":{"datum":252.8,"type":"quantitative","axis":{"values":[8,26,44,62,80,98,116,134,152,170,194,212,230,245],"labelExpr":"['19','22','27','Oct','5','10','13','18','23','26','Nov','6','9','12:00'][indexof([8,26,44,62,80,98,116,134,152,170,194,212,230,245], datum.value)]","title":null,"grid":false,"ticks":false,"labelFontSize":7.5,"labelColor":"#333","labelPadding":1,"domainColor":"#999","labelFlush":false,"labelOverlap":false}},"y":{"field":"v","type":"quantitative","axis":{"orient":"right","title":null,"values":[25,50,75],"labels":false,"tickSize":3,"tickColor":"#999","domainColor":"#999","grid":false}},"text":{"field":"v","type":"quantitative","format":".4f"}}}
]
}
]
}
